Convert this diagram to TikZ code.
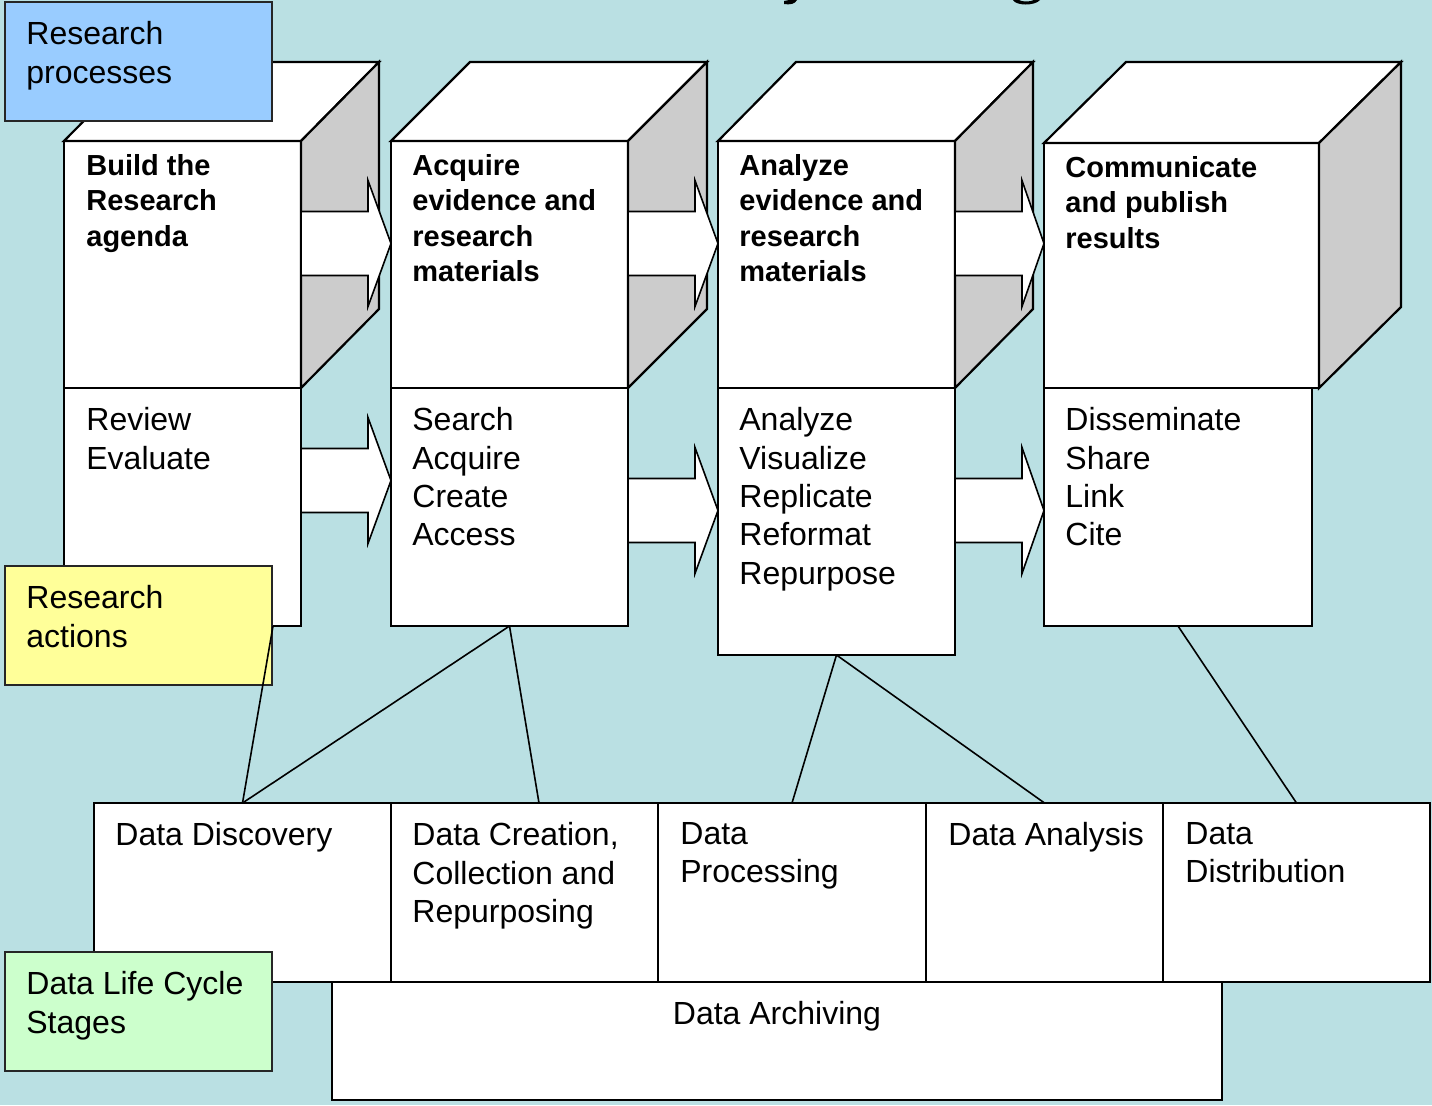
\documentclass[tikz,border=0pt]{standalone}
\usepackage{fontspec}
\setmainfont{Liberation Sans}
\usetikzlibrary{fit,calc}
\definecolor{bgblue}{RGB}{186,224,227}
\definecolor{procblue}{RGB}{153,204,255}
\definecolor{actyellow}{RGB}{255,255,153}
\definecolor{stagegreen}{RGB}{204,255,204}
\definecolor{sidegray}{RGB}{204,204,204}
\newcommand\myblockarrow[4]{%
  \draw[blockarr] (#1,#4-32) -- (#2,#4-32) -- (#2,#4-63) -- (#3,#4) -- (#2,#4+63) -- (#2,#4+32) -- (#1,#4+32) -- cycle;}
\begin{document}
\begin{tikzpicture}[x=0.5pt,y=-0.5pt,
  box/.style={draw=black, line width=1.1pt, fill=white, inner sep=0pt, outer sep=0pt},
  face/.style={draw=black, line width=1.1pt, fill=white, line join=miter},
  side/.style={face, fill=sidegray},
  blockarr/.style={draw=black, line width=0.8pt, fill=white, line join=miter},
  labelbox/.style={draw=black!85, line width=1.1pt, inner sep=0pt, outer sep=0pt},
  link/.style={draw=black, line width=0.8pt},
  reg/.style={font=\fontsize{16pt}{19.2pt}\selectfont, align=left, inner sep=0pt, anchor=north west, yshift=11.44pt, execute at begin node=\strut},
  regone/.style={font=\fontsize{16pt}{19.2pt}\selectfont, inner sep=0pt, anchor=base west},
  boldtxt/.style={font=\fontsize{14.5pt}{17.8pt}\selectfont\bfseries, align=left, inner sep=0pt, anchor=north west, yshift=10.7pt, execute at begin node=\strut},
]
% background and size
\fill[bgblue] (0,0) rectangle (1432,1105);
\useasboundingbox (0,0) rectangle (1432,1105);

% fragments of the cut-off title
\fill[black] (789,0) -- (797,0) .. controls (795,4) and (790,5) .. (784,4) -- (784,1) .. controls (787,1) .. (789,0) -- cycle;
\fill[black] (1013,0) .. controls (1016,6) and (1035,6) .. (1040,0) -- (1034,0) .. controls (1030,2) and (1022,2) .. (1019,0) -- cycle;

% ---------- cubes (research processes) ----------
\foreach \n/\xa/\xb/\ya/\dx/\dy in {1/64/301/141/78/79, 2/391/628/141/79/79, 3/718/955/141/78/79, 4/1044/1319/143/82/81}{
  \coordinate (p\n a) at (\xa,\ya);
  \coordinate (p\n b) at (\xb,388);
  \node[box, fit=(p\n a)(p\n b)] (front\n) {};
  \draw[face] (front\n.north west) -- ++(\dx,-\dy) -- ($(front\n.north east)+(\dx,-\dy)$) -- (front\n.north east) -- cycle;
  \draw[side] (front\n.north east) -- ++(\dx,-\dy) -- ($(front\n.south east)+(\dx,-\dy)$) -- (front\n.south east) -- cycle;
}

% ---------- action boxes ----------
\foreach \n/\xa/\xb/\yb in {1/64/301/626, 2/391/628/626, 3/718/955/655, 4/1044/1312/626}{
  \coordinate (q\n a) at (\xa,388);
  \coordinate (q\n b) at (\xb,\yb);
  \node[box, fit=(q\n a)(q\n b)] (act\n) {};
}

% ---------- block arrows ----------
\myblockarrow{301}{368}{391}{243.5}
\myblockarrow{628}{695}{718}{243.5}
\myblockarrow{955}{1022}{1044}{243.5}
\myblockarrow{301}{368}{391}{480.5}
\myblockarrow{628}{695}{718}{510.5}
\myblockarrow{955}{1022}{1044}{510.5}

% ---------- texts of processes ----------
\node[boldtxt] (t1) at (86,175) {Build the\\Research\\agenda};
\node[boldtxt] (t2) at (412,175) {Acquire\\evidence and\\research\\materials};
\node[boldtxt] (t3) at (739,175) {Analyze\\evidence and\\research\\materials};
\node[boldtxt] (t4) at (1065,177) {Communicate\\and publish\\results};

% ---------- texts of actions ----------
\node[reg] (u1) at (86,430) {Review\\Evaluate};
\node[reg] (u2) at (412,430) {Search\\Acquire\\Create\\Access};
\node[reg] (u3) at (739,430) {Analyze\\Visualize\\Replicate\\Reformat\\Repurpose};
\node[reg] (u4) at (1065,430) {Disseminate\\Share\\Link\\Cite};

% ---------- data archiving ----------
\coordinate (arA) at (332,982);
\coordinate (arB) at (1222,1100);
\node[box, fit=(arA)(arB)] (archive) {};
\node[font=\fontsize{16pt}{19.2pt}\selectfont, inner sep=0pt, anchor=base] (archtxt) at (777,1024) {Data Archiving};

% ---------- life cycle stages ----------
\foreach \n/\xa/\xb in {1/94/391, 2/391/658, 3/658/926, 4/926/1163, 5/1163/1430}{
  \coordinate (s\n a) at (\xa,803);
  \coordinate (s\n b) at (\xb,982);
  \node[box, fit=(s\n a)(s\n b)] (stage\n) {};
}
\node[regone] (v1) at (115,845) {Data Discovery};
\node[reg] (v2) at (412,845) {Data Creation,\\Collection and\\Repurposing};
\node[reg] (v3) at (680,845) {Data\\Processing};
\node[regone] (v4) at (948,845) {Data Analysis};
\node[reg] (v5) at (1185,845) {Data\\Distribution};

% ---------- label boxes ----------
\coordinate (lpA) at (5,2);   \coordinate (lpB) at (272,121);
\node[labelbox, fill=procblue, fit=(lpA)(lpB)] (procbox) {};
\node[reg] (proctxt) at (26,44) {Research\\processes};

\coordinate (laA) at (5,566); \coordinate (laB) at (272,685);
\node[labelbox, fill=actyellow, fit=(laA)(laB)] (actbox) {};
\node[reg] (acttxt) at (26,608) {Research\\actions};

\coordinate (lsA) at (5,952); \coordinate (lsB) at (272,1071);
\node[labelbox, fill=stagegreen, fit=(lsA)(lsB)] (stagebox) {};
\node[reg] (stagetxt) at (26,994) {Data Life Cycle\\Stages};

% ---------- connectors ----------
\coordinate (act1link) at (273,626);
\coordinate (stage2link) at (539,803);
\draw[link] (act1link) -- (stage1.north);
\draw[link] (act2.south) -- (stage1.north);
\draw[link] (act2.south) -- (stage2link);
\draw[link] (act3.south) -- (stage3.north);
\draw[link] (act3.south) -- (stage4.north);
\draw[link] (act4.south) -- (stage5.north);
\end{tikzpicture}
\end{document}
